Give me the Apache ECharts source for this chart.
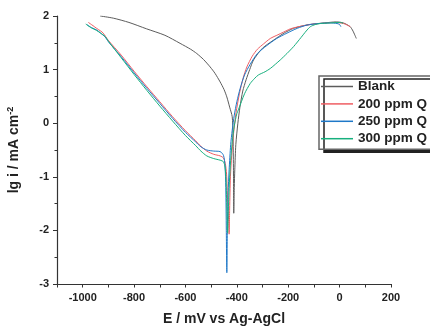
<!DOCTYPE html>
<html>
<head>
<meta charset="utf-8">
<script src="https://cdn.jsdelivr.net/npm/echarts@6/dist/echarts.min.js"></script>
<style>
  html, body { margin: 0; padding: 0; background: #fff; }
  #chart { width: 430px; height: 326px; }
</style>
</head>
<body>
<div id="chart"></div>
<script>
// polarisation curves: [E (mV vs Ag-AgCl), lg i (mA cm-2)]
const seriesNames = ["Blank", "200 ppm Q", "250 ppm Q", "300 ppm Q"];
const seriesColors = ["#5c5c5c", "#ef5d62", "#1e78c8", "#17b07e"];

const blank = [
  [-932, 2.00], [-881, 1.96], [-820, 1.88], [-751, 1.76], [-680, 1.64],
  [-621, 1.49], [-580, 1.38], [-556, 1.30], [-530, 1.19], [-504, 1.05],
  [-485, 0.93], [-465, 0.77], [-450, 0.63], [-439, 0.49], [-428, 0.30],
  [-418, 0.12], [-415, -0.20], [-414, -0.50], [-413, -1.00], [-412, -1.68],
  [-410, -1.20], [-408, -0.87], [-404, -0.40], [-396, 0.00], [-388, 0.30],
  [-377, 0.60], [-364, 0.81], [-350, 1.00], [-335, 1.18], [-300, 1.40],
  [-257, 1.55], [-220, 1.67], [-179, 1.77], [-120, 1.84], [-60, 1.87],
  [-13, 1.89], [15, 1.87], [41, 1.80], [52, 1.72], [65, 1.58]
];

const q200 = [
  [-978, 1.88], [-960, 1.82], [-946, 1.77], [-930, 1.72], [-920, 1.68],
  [-901, 1.55], [-850, 1.27], [-800, 0.97], [-750, 0.68], [-700, 0.40],
  [-650, 0.12], [-600, -0.14], [-560, -0.33], [-540, -0.43], [-517, -0.52],
  [-490, -0.58], [-465, -0.61], [-452, -0.65], [-445, -0.75], [-440, -0.95],
  [-436, -1.43], [-432, -1.80], [-430, -2.07],
  [-428, -1.60], [-425, -1.00], [-420, -0.60], [-413, -0.20], [-403, 0.20],
  [-390, 0.55], [-375, 0.85], [-361, 1.05], [-340, 1.25], [-320, 1.38],
  [-296, 1.48], [-270, 1.58], [-240, 1.65], [-218, 1.70], [-192, 1.76],
  [-160, 1.80], [-127, 1.83], [-90, 1.855], [-50, 1.87], [-20, 1.88],
  [15, 1.86], [30, 1.83], [42, 1.80]
];

const q250 = [
  [-984, 1.84], [-965, 1.78], [-946, 1.74], [-930, 1.68], [-913, 1.61],
  [-900, 1.52], [-850, 1.24], [-800, 0.94], [-750, 0.65], [-700, 0.37],
  [-650, 0.09], [-600, -0.17], [-560, -0.35], [-540, -0.44], [-517, -0.50],
  [-490, -0.52], [-465, -0.53], [-452, -0.60], [-446, -0.80], [-443, -1.20],
  [-441, -2.00], [-439, -2.79],
  [-437, -2.00], [-434, -1.30], [-430, -0.87], [-424, -0.40], [-418, -0.13],
  [-410, 0.15], [-400, 0.40], [-387, 0.65], [-370, 0.90], [-348, 1.10],
  [-320, 1.30], [-283, 1.45], [-245, 1.58], [-205, 1.68], [-165, 1.77],
  [-127, 1.83], [-80, 1.86], [-36, 1.87], [-10, 1.86], [0, 1.84], [5, 1.80]
];

const q300 = [
  [-988, 1.85], [-970, 1.79], [-946, 1.73], [-930, 1.68], [-913, 1.62],
  [-900, 1.53], [-850, 1.22], [-800, 0.91], [-750, 0.61], [-700, 0.32],
  [-650, 0.04], [-600, -0.23], [-560, -0.42], [-540, -0.52], [-517, -0.61],
  [-490, -0.66], [-465, -0.69], [-452, -0.72], [-446, -0.82], [-442, -1.06],
  [-439, -1.60], [-436, -2.05],
  [-433, -1.60], [-429, -1.10], [-424, -0.69], [-418, -0.35], [-410, -0.05],
  [-400, 0.18], [-394, 0.25], [-370, 0.55], [-348, 0.74], [-330, 0.84],
  [-316, 0.90], [-290, 0.96], [-270, 1.02], [-250, 1.10], [-231, 1.18],
  [-205, 1.30], [-179, 1.43], [-150, 1.60], [-130, 1.72], [-114, 1.80],
  [-95, 1.84], [-75, 1.86], [-40, 1.87], [3, 1.88], [14, 1.86]
];

const seriesData = [blank, q200, q250, q300];

const font = "'Liberation Sans', Arial, sans-serif";
const axisColor = "#333";

const chart = echarts.init(document.getElementById("chart"), null, { renderer: "canvas" });

chart.setOption({
  animation: false,
  backgroundColor: "#fff",
  grid: { left: 57, right: 39, top: 16, bottom: 42, containLabel: false, outerBoundsMode: "none" },
  legend: {
    data: seriesNames,
    orient: "vertical",
    left: 319,
    top: 76,
    padding: [3, 12, 3, 2],
    itemGap: 2.4,
    icon: "rect",
    itemWidth: 32,
    itemHeight: 1.5,
    backgroundColor: "#fff",
    borderColor: "#666",
    borderWidth: 1.5,
    borderRadius: 0,
    shadowColor: "#222",
    shadowBlur: 0,
    shadowOffsetX: 5,
    shadowOffsetY: 3,
    textStyle: { fontFamily: font, fontWeight: "bold", fontSize: 13.5, color: "#222", lineHeight: 15 }
  },
  xAxis: {
    type: "value",
    min: -1100,
    max: 200,
    interval: 100,
    name: "E / mV vs Ag-AgCl",
    nameLocation: "middle",
    nameGap: 28,
    nameTextStyle: { fontFamily: font, fontWeight: "bold", fontSize: 14, color: "#222" },
    axisLine: { onZero: false, lineStyle: { color: axisColor, width: 1.2 } },
    axisTick: { length: 3.5, lineStyle: { color: axisColor, width: 1 } },
    axisLabel: {
      margin: 8,
      fontFamily: font, fontWeight: "bold", fontSize: 11, color: "#222",
      formatter: (v) => (v % 200 === 0 ? String(v) : "")
    },
    splitLine: { show: false }
  },
  yAxis: {
    type: "value",
    min: -3,
    max: 2,
    interval: 1,
    name: "{t|lg i / mA cm}{s|-2}",
    nameLocation: "middle",
    nameGap: 35,
    nameTextStyle: {
      fontFamily: font, fontWeight: "bold", fontSize: 14, color: "#222",
      rich: {
        t: { fontFamily: font, fontWeight: "bold", fontSize: 14, color: "#222", lineHeight: 16 },
        s: { fontFamily: font, fontWeight: "bold", fontSize: 9, color: "#222", lineHeight: 9, verticalAlign: "top" }
      }
    },
    axisLine: { show: true, onZero: false, lineStyle: { color: axisColor, width: 1.2 } },
    axisTick: { show: true, length: 4, lineStyle: { color: axisColor, width: 1 } },
    minorTick: { show: true, splitNumber: 2, length: 2.5, lineStyle: { color: axisColor, width: 1 } },
    axisLabel: { margin: 8, fontFamily: font, fontWeight: "bold", fontSize: 11, color: "#222" },
    splitLine: { show: false }
  },
  series: seriesNames.map((name, i) => ({
    name,
    type: "line",
    data: seriesData[i],
    symbol: "none",
    smooth: 0.25,
    lineStyle: { color: seriesColors[i], width: 1 },
    itemStyle: { color: seriesColors[i] },
    z: 2 + i
  }))
});
</script>
</body>
</html>
